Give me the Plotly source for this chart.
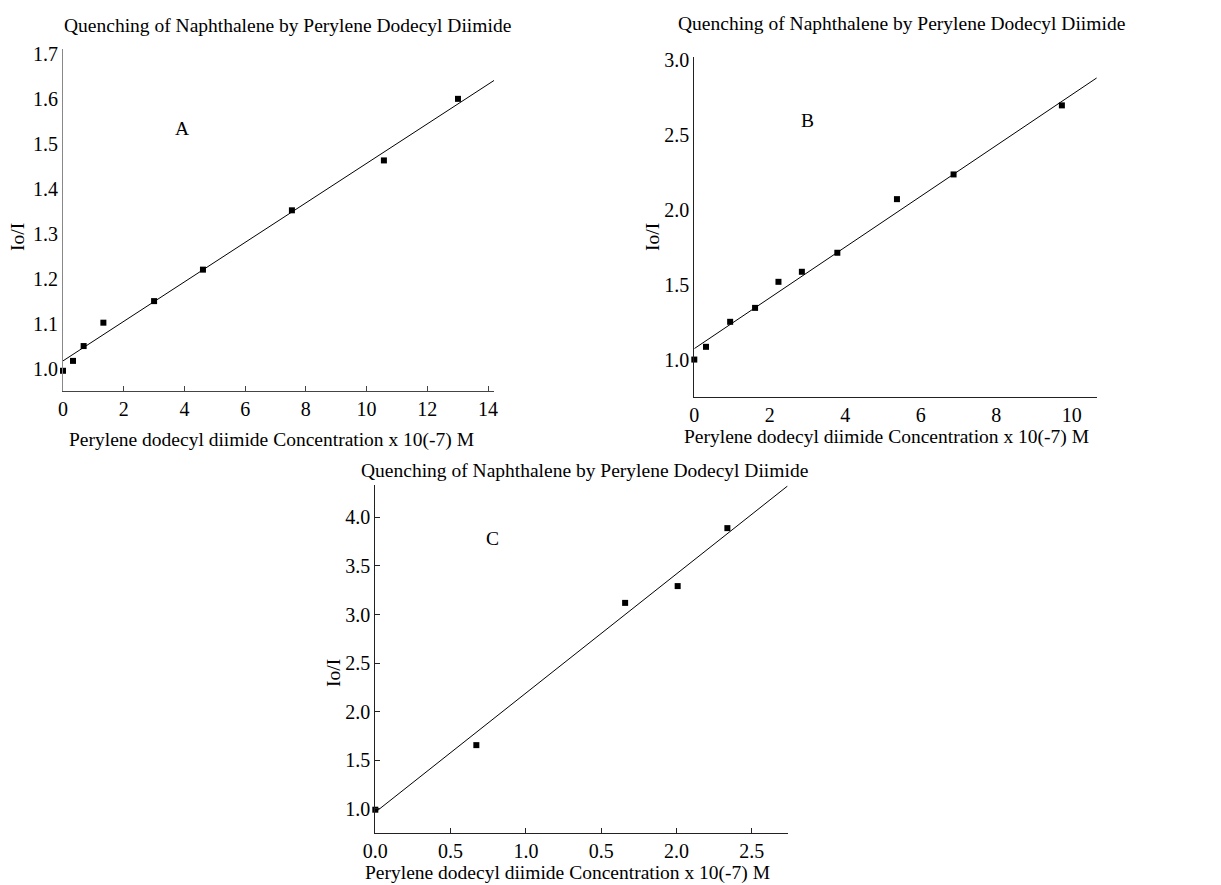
import plotly.graph_objects as go

# page body has an 8px default margin; figure is sized to fill the rest
OFF = 8
W, H = 1221 - OFF, 885 - OFF
FONT = "Liberation Serif"

title_text = "Quenching of Naphthalene by Perylene Dodecyl Diimide"
xlabel = "Perylene dodecyl diimide Concentration x 10(-7) M"
ylabel = "Io/I"

# Panel A
a_x = [0.0, 0.33, 0.68, 1.33, 3.0, 4.61, 7.54, 10.57, 13.01]
a_y = [0.995, 1.017, 1.050, 1.102, 1.150, 1.220, 1.352, 1.463, 1.600]
a_fit_x = [0.0, 14.2]
a_fit_y = [1.017, 1.641]
a_xticks = [0, 2, 4, 6, 8, 10, 12, 14]
a_yticks = [1.0, 1.1, 1.2, 1.3, 1.4, 1.5, 1.6, 1.7]

# Panel B
b_x = [0.0, 0.31, 0.95, 1.61, 2.23, 2.85, 3.79, 5.37, 6.87, 9.74]
b_y = [1.0, 1.085, 1.252, 1.345, 1.519, 1.586, 1.713, 2.071, 2.236, 2.697]
b_fit_x = [0.0, 10.95]
b_fit_y = [1.073, 2.929]
b_xticks = [0, 2, 4, 6, 8, 10]
b_yticks = [1.0, 1.5, 2.0, 2.5, 3.0]

# Panel C
c_x = [0.0, 0.671, 1.659, 2.008, 2.338]
c_y = [0.99, 1.655, 3.12, 3.293, 3.89]
c_fit_x = [0.01, 2.737]
c_fit_y = [0.976, 4.323]
c_xticks = [0.0, 0.5, 1.0, 1.5, 2.0, 2.5]
c_xticktext = ["0.0", "0.5", "1.0", "0.5", "2.0", "2.5"]
c_yticks = [1.0, 1.5, 2.0, 2.5, 3.0, 3.5, 4.0]

fig = go.Figure()

def px(x):
    return (x - OFF) / W

def py(y):
    return 1 - (y - OFF) / H

panels = [
    dict(xa="x", ya="y", px_=a_x, py_=a_y, fx=a_fit_x, fy=a_fit_y),
    dict(xa="x2", ya="y2", px_=b_x, py_=b_y, fx=b_fit_x, fy=b_fit_y),
    dict(xa="x3", ya="y3", px_=c_x, py_=c_y, fx=c_fit_x, fy=c_fit_y),
]
for p in panels:
    fig.add_trace(go.Scatter(x=p["fx"], y=p["fy"], mode="lines",
                             line=dict(color="black", width=1),
                             xaxis=p["xa"], yaxis=p["ya"], showlegend=False,
                             hoverinfo="skip"))
    fig.add_trace(go.Scatter(x=p["px_"], y=p["py_"], mode="markers",
                             marker=dict(symbol="square", size=6, color="black"),
                             xaxis=p["xa"], yaxis=p["ya"], showlegend=False,
                             cliponaxis=False))

tickfont = dict(family=FONT, size=20, color="black")

def axis(domain, rng, tickvals, ticktext=None, linecolor="black", ticks="", anchor=None, fmt=None):
    d = dict(domain=domain, range=rng, tickvals=tickvals, showgrid=False,
             zeroline=False, showline=True, linecolor=linecolor, linewidth=1,
             ticks=ticks, ticklen=5, tickcolor=linecolor, tickfont=tickfont,
             anchor=anchor, fixedrange=True, automargin=False)
    if ticktext is not None:
        d["ticktext"] = ticktext
    if fmt is not None:
        d["tickformat"] = fmt
    return d

fig.update_layout(
    template="none",
    width=W, height=H,
    margin=dict(l=0, r=0, t=0, b=0, pad=0, autoexpand=False),
    paper_bgcolor="white", plot_bgcolor="white",
    font=dict(family=FONT, color="black"),
    xaxis=axis([px(63), px(494.1)], [0, 14.2], a_xticks, linecolor="#444", ticks="inside", anchor="y"),
    yaxis=axis([py(391), py(49.4)], [0.95, 1.71], a_yticks, linecolor="#888", anchor="x", fmt=".1f"),
    xaxis2=axis([px(694.3), px(1096.6)], [0, 10.66], b_xticks, linecolor="#222", anchor="y2"),
    yaxis2=axis([py(397), py(57)], [0.75, 3.02], b_yticks, linecolor="#222", anchor="x2", fmt=".1f"),
    xaxis3=axis([px(375.3), px(787.9)], [0, 2.74], c_xticks, ticktext=c_xticktext, linecolor="#222", ticks="inside", anchor="y3"),
    yaxis3=axis([py(833), py(485.4)], [0.75, 4.33], c_yticks, linecolor="#222", ticks="inside", anchor="x3", fmt=".1f"),
)

ann_font = dict(family=FONT, size=19.5, color="black")
annotations = [
    # titles
    dict(text=title_text, x=px(287.5), y=py(25), font=ann_font),
    dict(text=title_text, x=px(901.7), y=py(24), font=ann_font),
    dict(text=title_text, x=px(584), y=py(470), font=ann_font),
    # x labels
    dict(text=xlabel, x=px(271.7), y=py(440), font=ann_font),
    dict(text=xlabel, x=px(886.7), y=py(437), font=ann_font),
    dict(text=xlabel, x=px(567.5), y=py(873), font=ann_font),
    # y labels
    dict(text=ylabel, x=px(17), y=py(237), font=ann_font, textangle=-90),
    dict(text=ylabel, x=px(652), y=py(237), font=ann_font, textangle=-90),
    dict(text=ylabel, x=px(333), y=py(673), font=ann_font, textangle=-90),
]
for a in annotations:
    a.update(xref="paper", yref="paper", showarrow=False, xanchor="center", yanchor="middle")

letters = [
    dict(text="A", x=3.92, y=1.535, xref="x", yref="y"),
    dict(text="B", x=2.99, y=2.595, xref="x2", yref="y2"),
    dict(text="C", x=0.777, y=3.784, xref="x3", yref="y3"),
]
for a in letters:
    a.update(showarrow=False, font=ann_font, xanchor="center", yanchor="middle")

fig.update_layout(annotations=annotations + letters)

fig.write_html("out.html")
